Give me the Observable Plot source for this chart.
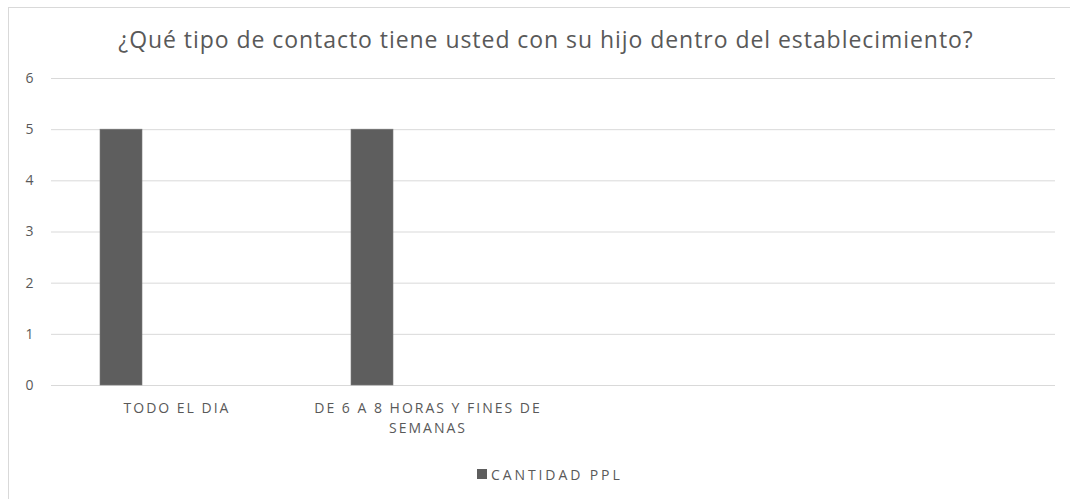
<!DOCTYPE html>
<html>
<head>
<meta charset="utf-8">
<script src="https://cdn.jsdelivr.net/npm/d3@7"></script>
<script src="https://cdn.jsdelivr.net/npm/@observablehq/plot@0.6"></script>
<style>
  html, body { margin: 0; padding: 0; background: #fff; }
  body { width: 1070px; height: 499px; position: relative; overflow: hidden; font-family: "Open Sans", sans-serif; }
  #frame { position: absolute; left: 8px; top: 7px; width: 1080px; height: 510px; border: 1px solid #d9d9d9; box-sizing: border-box; }
  #title { position: absolute; left: 0; width: 1092px; top: 28px; line-height: 23px; text-align: center; font-size: 23px; color: #595959; font-family: "Open Sans", sans-serif; letter-spacing: 0.95px; white-space: nowrap; }
  #chart { position: absolute; left: 0; top: 0; }
  #chart g[aria-label="fx-axis tick label"] text { letter-spacing: 2px; }
  #legend { position: absolute; top: 464px; left: 477px; height: 20px; font-size: 14px; color: #595959; display: flex; align-items: center; gap: 4px; font-family: "Open Sans", sans-serif; letter-spacing: 2.9px; white-space: nowrap; }
  #legend .sw { width: 10px; height: 10px; background: #5e5e5e; display: inline-block; }
</style>
</head>
<body>
<div id="frame"></div>
<div id="title">¿Qué tipo de contacto tiene usted con su hijo dentro del establecimiento?</div>
<div id="chart"></div>
<div id="legend"></div>
<script>
const categories = ["TODO EL DIA", "DE 6 A 8 HORAS Y FINES DE\nSEMANAS", "", ""];
const values = [5, 5, null, null];
const series = ["CANTIDAD PPL"];
const yTicks = [0, 1, 2, 3, 4, 5, 6];

const data = categories.map((c, i) => ({idx: i, label: c, series: series[0], value: values[i]}));

const chart = Plot.plot({
  width: 1070,
  height: 499,
  marginLeft: 51,
  marginRight: 15,
  marginTop: 78,
  marginBottom: 114,
  style: {fontFamily: "Open Sans, sans-serif", fontSize: "14px", color: "#595959", background: "transparent"},
  fx: {domain: categories.map((c, i) => i), padding: 0, label: null},
  x: {domain: series, paddingInner: 0, paddingOuter: 2.419, align: 0.2356, axis: null},
  y: {domain: [0, 6], label: null},
  marks: [
    Plot.gridY(yTicks, {stroke: "#d9d9d9", strokeOpacity: 1}),
    Plot.axisY(yTicks, {tickSize: 0, tickPadding: 18, tickFormat: d => String(d), fill: "#595959", label: null}),
    Plot.axisFx({anchor: "bottom", tickSize: 0, tickPadding: 13, tickFormat: i => categories[i], fill: "#595959", label: null, lineHeight: 1.43}),
    Plot.barY(data, {fx: "idx", x: "series", y: "value", fill: "#5e5e5e", stroke: "#7a7a7a", strokeWidth: 0.6})
  ]
});
document.getElementById("chart").appendChild(chart);

const legend = document.getElementById("legend");
series.forEach(s => {
  const sw = document.createElement("span"); sw.className = "sw";
  const t = document.createElement("span"); t.textContent = s;
  legend.appendChild(sw); legend.appendChild(t);
});
</script>
</body>
</html>
